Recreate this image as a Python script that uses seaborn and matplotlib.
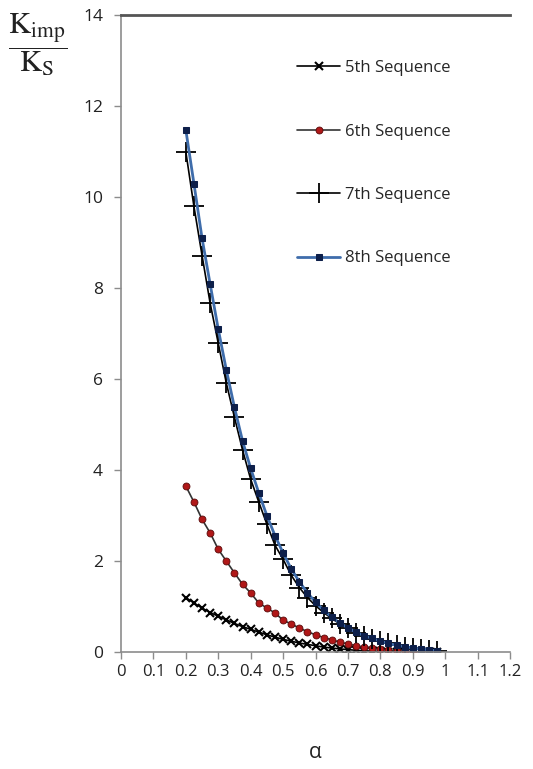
import seaborn as sns
import matplotlib.pyplot as plt

# alpha values (x axis)
alpha = [0.2, 0.225, 0.25, 0.275, 0.3, 0.325, 0.35, 0.375, 0.4, 0.425, 0.45, 0.475,
         0.5, 0.525, 0.55, 0.575, 0.6, 0.625, 0.65, 0.675, 0.7, 0.725, 0.75, 0.775,
         0.8, 0.825, 0.85, 0.875, 0.9, 0.925, 0.95, 0.975]

# K_imp / K_S
seq5 = [1.2, 1.08, 0.97, 0.87, 0.79, 0.71, 0.63, 0.56, 0.50, 0.44, 0.38, 0.33,
        0.28, 0.24, 0.20, 0.17, 0.14, 0.11, 0.09, 0.07, 0.055, 0.04, 0.03, 0.02,
        0.015, 0.01, 0.007, 0.004, 0.002, 0.001, 0.0, 0.0]
seq6 = [3.65, 3.30, 2.92, 2.62, 2.26, 2.0, 1.74, 1.49, 1.30, 1.08, 0.97, 0.86,
        0.70, 0.62, 0.53, 0.45, 0.38, 0.32, 0.27, 0.22, 0.18, 0.14, 0.11, 0.085,
        0.065, 0.045, 0.03, 0.02, 0.01, 0.005, 0.002, 0.0]
seq7 = [11.0, 9.8, 8.72, 7.67, 6.79, 5.91, 5.16, 4.44, 3.80, 3.30, 2.81, 2.35,
        2.04, 1.69, 1.42, 1.20, 1.02, 0.87, 0.74, 0.62, 0.52, 0.43, 0.36, 0.29,
        0.24, 0.19, 0.15, 0.12, 0.09, 0.07, 0.05, 0.03]
seq8 = [11.48, 10.3, 9.1, 8.09, 7.1, 6.2, 5.38, 4.64, 4.04, 3.5, 3.0, 2.56,
        2.18, 1.83, 1.55, 1.3, 1.1, 0.92, 0.77, 0.64, 0.53, 0.44, 0.36, 0.30,
        0.24, 0.19, 0.15, 0.12, 0.09, 0.07, 0.05, 0.03]

xticks = [0, 0.1, 0.2, 0.3, 0.4, 0.5, 0.6, 0.7, 0.8, 0.9, 1, 1.1, 1.2]
xticklabels = ['0', '0.1', '0.2', '0.3', '0.4', '0.5', '0.6', '0.7', '0.8', '0.9', '1', '1.1', '1.2']
yticks = [0, 2, 4, 6, 8, 10, 12, 14]

sns.set_style('white')
plt.rcParams['font.family'] = ['Open Sans', 'DejaVu Sans']
plt.rcParams['mathtext.fontset'] = 'stix'

fig = plt.figure(figsize=(5.33, 7.69), dpi=100)
ax = fig.add_axes([0.227, 0.152, 0.730, 0.828])

sns.lineplot(x=alpha, y=seq5, ax=ax, color='black', lw=1.2, marker='x', markersize=6,
             markeredgewidth=1.5, markeredgecolor='black', label='5th Sequence')
sns.lineplot(x=alpha, y=seq6, ax=ax, color='#333333', lw=1.2, marker='o', markersize=5,
             markerfacecolor='#b01818', markeredgecolor='#5a0a0a', markeredgewidth=0.6,
             label='6th Sequence')
sns.lineplot(x=alpha, y=seq7, ax=ax, color='black', lw=1.2, marker='+', markersize=14,
             markeredgewidth=1.3, markeredgecolor='black', label='7th Sequence')
sns.lineplot(x=alpha, y=seq8, ax=ax, color='#3f6dab', lw=2.0, marker='s', markersize=4,
             markerfacecolor='#0d1f4a', markeredgecolor='#0d1f4a', label='8th Sequence')

ax.set_xlim(0, 1.2)
ax.set_ylim(0, 14)
ax.set_xticks(xticks)
ax.set_xticklabels(xticklabels, fontsize=12)
ax.set_yticks(yticks)
ax.set_yticklabels([str(v) for v in yticks], fontsize=12.5)
ax.tick_params(axis='both', direction='out', length=5, width=1, color='#8c8c8c',
               left=True, bottom=True, labelcolor='#222222')
ax.tick_params(axis='y', pad=8)

for s in ['left', 'bottom']:
    ax.spines[s].set_color('#8c8c8c')
    ax.spines[s].set_linewidth(1.2)
ax.spines['right'].set_visible(False)
ax.spines['top'].set_color('#555555')
ax.spines['top'].set_linewidth(2)

ax.set_xlabel('α', fontsize=15, labelpad=45, color='#222222')
ax.set_ylabel('')

fig.text(0.07, 0.942, r'$\dfrac{\mathrm{K_{imp}}}{\mathrm{K_S}}$', fontsize=22,
         ha='center', va='center', color='#222222')

ax.legend(loc='upper left', bbox_to_anchor=(297 / 533, 1 - 60 / 769),
          bbox_transform=fig.transFigure, frameon=False, fontsize=12,
          handlelength=2.6, handletextpad=0.3, labelspacing=2.85, borderpad=0,
          borderaxespad=0)

fig.savefig('out.png', dpi=100)
